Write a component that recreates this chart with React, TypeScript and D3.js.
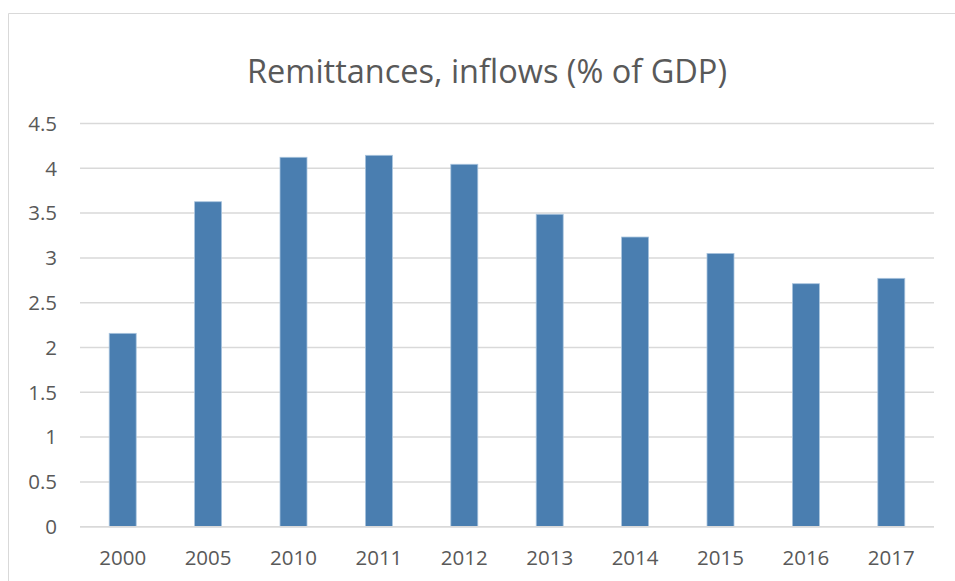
import React from "react";
import * as d3 from "d3";

const categories = ["2000", "2005", "2010", "2011", "2012", "2013", "2014", "2015", "2016", "2017"];
const values = [2.158, 3.627, 4.123, 4.145, 4.045, 3.487, 3.233, 3.05, 2.712, 2.772];
const yTicks = [0, 0.5, 1, 1.5, 2, 2.5, 3, 3.5, 4, 4.5];
const title = "Remittances, inflows (% of GDP)";

const W = 955;
const H = 581;
const FONT = "'Open Sans', 'Noto Sans', sans-serif";
const TEXT = "#595959";

export default function App() {
  const left = 80;
  const right = 934;
  const top = 123.5;
  const bottom = 526.7;
  const x = d3.scaleBand<string>().domain(categories).range([left, right]).paddingInner(0.684).paddingOuter(0.342);
  const y = d3.scaleLinear().domain([0, 4.5]).range([bottom, top]);
  return (
    <svg width={W} height={H} style={{ position: "absolute", left: 0, top: 0, background: "#fff" }}>
      <rect x={0} y={0} width={W} height={H} fill="#fff" />
      <path d={`M8.5,${H + 5}V13.5H${W + 5}`} fill="none" stroke="#d9d9d9" strokeWidth={1} />
      <text x={487} y={83} textAnchor="middle" fontFamily={FONT} fontSize={32.5} fill={TEXT}>{title}</text>
      {yTicks.map((t) => (
        <g key={t}>
          <line x1={left} x2={right} y1={y(t)} y2={y(t)} stroke="#d9d9d9" strokeWidth={1.5} />
          <text x={57} y={y(t)} dy="0.36em" textAnchor="end" fontFamily={FONT} fontSize={20.5} fill={TEXT}>{t}</text>
        </g>
      ))}
      {categories.map((c, i) => (
        <rect key={c} x={x(c)} y={y(values[i])} width={x.bandwidth()} height={y(0) - y(values[i])} fill="#4a7eb0" stroke="#a9c4de" strokeWidth={0.8} />
      ))}
      <line x1={left} x2={right} y1={y(0)} y2={y(0)} stroke="#d9d9d9" strokeWidth={1.5} />
      {categories.map((c) => (
        <text key={c} x={(x(c) as number) + x.bandwidth() / 2} y={565} textAnchor="middle" fontFamily={FONT} fontSize={20.5} fill={TEXT}>{c}</text>
      ))}
    </svg>
  );
}
